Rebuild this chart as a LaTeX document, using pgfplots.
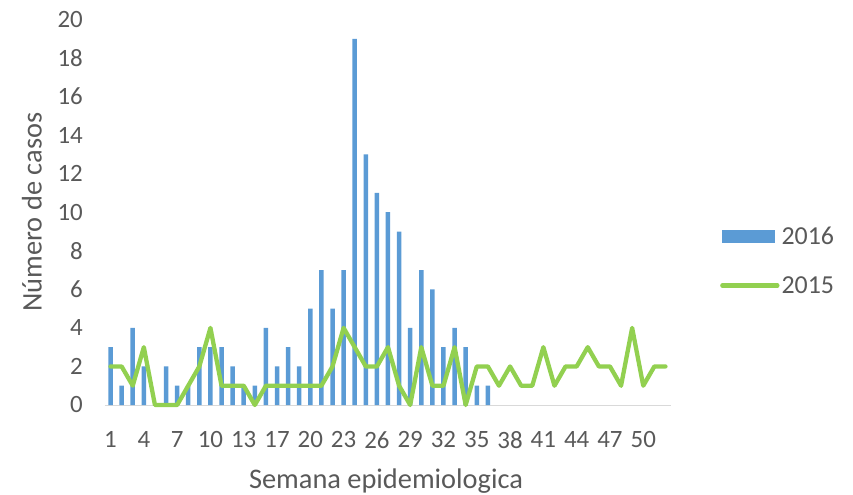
\documentclass[border=0pt]{standalone}
\usepackage{pgfplots}
\pgfplotsset{compat=1.18}
\usepackage{fontspec}
\setmainfont{Carlito}
\definecolor{barblue}{HTML}{5B9BD5}
\definecolor{linegreen}{HTML}{92D050}
\definecolor{txtgray}{HTML}{595959}
\definecolor{axgray}{HTML}{D9D9D9}
\begin{document}
\begin{tikzpicture}
\useasboundingbox (-105bp,-90bp) rectangle (748bp,405bp);
\begin{axis}[
  at={(0,0)}, anchor=south west,
  scale only axis,
  width=566bp, height=385.5bp,
  xmin=-0.5, xmax=50.5,
  ymin=0, ymax=20,
  ytick={0,2,...,20},
  xtick={0,3,...,48},
  xticklabels={1,4,7,10,13,17,20,23,26,29,32,35,38,41,44,47,50},
  axis x line*=bottom, axis y line*=left,
  x axis line style={draw=axgray, line width=1bp, -},
  y axis line style={draw=none},
  major tick length=0pt,
  tick style={draw=none},
  /pgf/number format/assume math mode=true,
  ticklabel style={font=\fontsize{25}{29}\selectfont, text=txtgray},
  yticklabel style={anchor=east, inner sep=0pt, xshift=-22bp},
  xticklabel style={anchor=north, inner sep=0pt, yshift=-26bp},
  xlabel={Semana epidemiologica},
  ylabel={Número de casos},
  every axis x label/.style={at={(axis description cs:0.4965,0)}, anchor=center, yshift=-76bp, font=\fontsize{28.5}{33}\selectfont, text=txtgray},
  every axis y label/.style={at={(axis description cs:-0.129,0.5)}, anchor=center, rotate=90, font=\fontsize{28.5}{33}\selectfont, text=txtgray},
  legend style={draw=none, fill=none, at={(1.0866,0.3735)}, anchor=west, inner sep=0pt, row sep=26bp, font=\fontsize{26}{30}\selectfont, text=txtgray, nodes={inner sep=2bp}},
  legend cell align=left,
  clip=false,
]
\addplot[ybar, bar width=4.5bp, fill=barblue, draw=none,
  legend image code/.code={\fill[barblue] (0bp,-6.5bp) rectangle (53bp,6.5bp);}]
coordinates {
(0,3) (1,1) (2,4) (3,2) (4,0) (5,2) (6,1) (7,1) (8,3) (9,3)
(10,3) (11,2) (12,1) (13,1) (14,4) (15,2) (16,3) (17,2) (18,5) (19,7)
(20,5) (21,7) (22,19) (23,13) (24,11) (25,10) (26,9) (27,4) (28,7) (29,6)
(30,3) (31,4) (32,3) (33,1) (34,1)
};
\addlegendentry{2016}
\addplot[linegreen, line width=4.3bp, line join=round, line cap=round, mark=none,
  legend image code/.code={\draw[linegreen, line width=4.3bp, line cap=round] (0bp,0bp) -- (55bp,0bp);}]
coordinates {
(0,2) (1,2) (2,1) (3,3) (4,0) (5,0) (6,0) (7,1) (8,2) (9,4)
(10,1) (11,1) (12,1) (13,0) (14,1) (15,1) (16,1) (17,1) (18,1) (19,1)
(20,2) (21,4) (22,3) (23,2) (24,2) (25,3) (26,1) (27,0) (28,3) (29,1)
(30,1) (31,3) (32,0) (33,2) (34,2) (35,1) (36,2) (37,1) (38,1) (39,3)
(40,1) (41,2) (42,2) (43,3) (44,2) (45,2) (46,1) (47,4) (48,1) (49,2)
(50,2)
};
\addlegendentry{2015}
\end{axis}
\end{tikzpicture}
\end{document}
